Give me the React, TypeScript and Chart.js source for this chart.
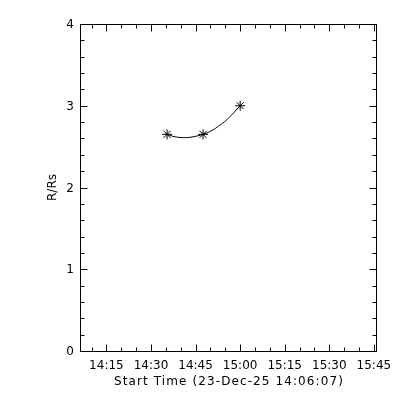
import React, { useEffect, useRef } from 'react';
import { Chart, registerables } from 'chart.js';

Chart.register(...registerables);

// Minutes after start time 14:06:07
const pointMinutes = [29.3, 41.4, 53.9];
const pointRs = [2.65, 2.65, 3.0];
// fitted curve
const fitMinutes = [29.3, 32, 35.4, 38, 41.4, 44, 47, 50, 53.9];
const fitRs = [2.65, 2.62, 2.61, 2.62, 2.65, 2.69, 2.76, 2.85, 3.0];

const xMajorMinutes = [8.883, 23.883, 38.883, 53.883, 68.883, 83.883, 98.883];
const xMajorLabels = ['14:15', '14:30', '14:45', '15:00', '15:15', '15:30', '15:45'];
const xMinorMinutes = [3.883, 13.883, 18.883, 28.883, 33.883, 43.883, 48.883, 58.883, 63.883, 73.883, 78.883, 88.883, 93.883];
const yMajor = [0, 1, 2, 3, 4];
const yMajorLabels = ['0', '1', '2', '3', '4'];
const yMinor = [0.2, 0.4, 0.6, 0.8, 1.2, 1.4, 1.6, 1.8, 2.2, 2.4, 2.6, 2.8, 3.2, 3.4, 3.6, 3.8];

const xTitle = 'Start Time (23-Dec-25 14:06:07)';
const yTitle = 'R/Rs';

const FONT = '12px "DejaVu Sans"';

const axesPlugin = {
  id: 'idlAxes',
  afterDraw(chart: any) {
    const ctx = chart.ctx;
    const { left, right, top, bottom } = chart.chartArea;
    const xs = chart.scales.x;
    const ys = chart.scales.y;
    ctx.save();
    ctx.strokeStyle = '#000';
    ctx.lineWidth = 1;
    ctx.strokeRect(left + 0.5, top + 0.5, right - left, bottom - top);
    const MAJ = 7, MIN = 4;
    ctx.beginPath();
    const vtick = (v: number, len: number) => {
      const px = Math.round(xs.getPixelForValue(v)) + 0.5;
      ctx.moveTo(px, bottom + 0.5); ctx.lineTo(px, bottom + 0.5 - len);
      ctx.moveTo(px, top + 0.5); ctx.lineTo(px, top + 0.5 + len);
    };
    const htick = (v: number, len: number) => {
      const py = Math.round(ys.getPixelForValue(v)) + 0.5;
      ctx.moveTo(left + 0.5, py); ctx.lineTo(left + 0.5 + len, py);
      ctx.moveTo(right + 0.5, py); ctx.lineTo(right + 0.5 - len, py);
    };
    xMajorMinutes.forEach((v) => vtick(v, MAJ));
    xMinorMinutes.forEach((v) => vtick(v, MIN));
    yMajor.forEach((v) => htick(v, MAJ));
    yMinor.forEach((v) => htick(v, MIN));
    ctx.stroke();

    ctx.fillStyle = '#000';
    ctx.font = FONT;
    ctx.textAlign = 'center';
    ctx.textBaseline = 'alphabetic';
    xMajorMinutes.forEach((v, i) => {
      ctx.fillText(xMajorLabels[i], xs.getPixelForValue(v), bottom + 18);
    });
    (ctx as any).letterSpacing = '1.1px';
    ctx.fillText(xTitle, (left + right) / 2 + 1, bottom + 34);
    (ctx as any).letterSpacing = '0px';
    ctx.textAlign = 'right';
    ctx.textBaseline = 'middle';
    yMajor.forEach((v, i) => {
      ctx.fillText(yMajorLabels[i], left - 6, ys.getPixelForValue(v) + 1);
    });
    ctx.translate(56, (top + bottom) / 2);
    ctx.rotate(-Math.PI / 2);
    ctx.textAlign = 'center';
    ctx.textBaseline = 'alphabetic';
    ctx.fillText(yTitle, 0, 0);
    ctx.restore();
  },
};

export default function App() {
  const ref = useRef<HTMLCanvasElement>(null);
  useEffect(() => {
    const chart = new Chart(ref.current as HTMLCanvasElement, {
      type: 'line',
      data: {
        datasets: [
          {
            data: fitMinutes.map((m, i) => ({ x: m, y: fitRs[i] })),
            borderColor: '#000',
            borderWidth: 1,
            pointRadius: 0,
            tension: 0.4,
            fill: false,
          },
          {
            data: pointMinutes.map((m, i) => ({ x: m, y: pointRs[i] })),
            showLine: false,
            borderColor: '#000',
            backgroundColor: '#000',
            pointStyle: 'star',
            pointRadius: 5,
            pointBorderWidth: 1,
          },
        ],
      },
      options: {
        responsive: false,
        animation: false,
        layout: { padding: { left: 80, top: 24, right: 24, bottom: 49 } },
        plugins: { legend: { display: false }, tooltip: { enabled: false } },
        scales: {
          x: { type: 'linear', min: 0, max: 99.6, display: false },
          y: { type: 'linear', min: 0, max: 4, display: false },
        },
      },
      plugins: [axesPlugin],
    });
    return () => chart.destroy();
  }, []);
  return (
    <div style={{ position: 'fixed', left: 0, top: 0, width: 400, height: 400, background: '#fff' }}>
      <canvas ref={ref} width={400} height={400} />
    </div>
  );
}
